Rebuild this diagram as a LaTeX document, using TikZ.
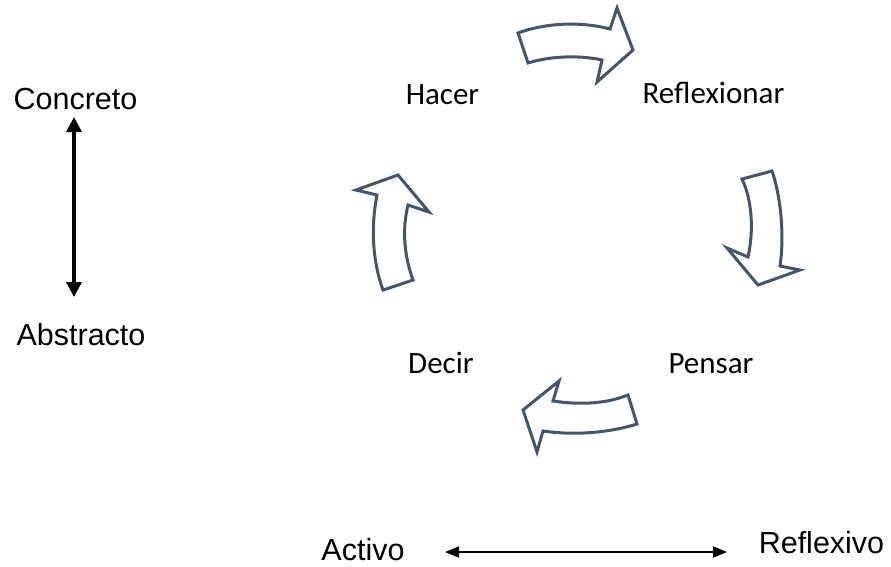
\documentclass[tikz,border=0pt]{standalone}
\usepackage{fontspec}
\setmainfont{Liberation Sans}
\newfontfamily\calibri{Carlito}
\usetikzlibrary{arrows.meta}
\definecolor{bordeflecha}{HTML}{44546A}
\tikzset{
  eje/.style={anchor=base, inner sep=1pt, font=\fontsize{30.5}{36}\selectfont},
  paso/.style={anchor=base, font=\calibri\fontsize{31}{36}\selectfont},
  flecha/.style={draw=bordeflecha, line width=3pt, line join=miter, fill=white},
}
\begin{document}
\begin{tikzpicture}[x=1pt,y=-1pt]
       \useasboundingbox (0,0) rectangle (891,566);
       % ciclo
       \node[paso] (hacer) at (442.5,104) {Hacer};
       \node[paso] (reflexionar) at (713.5,103) {Reflexionar};
       \node[paso] (pensar) at (711,373) {Pensar};
       \node[paso] (decir) at (441,373) {Decir};
       \draw[flecha] (518,33) .. controls (545,23) and (580,21) .. (610,29) -- (617,8) -- (633,50) -- (597,82) -- (602,60) .. controls (580,55) and (550,56) .. (528,63) -- cycle;
       \draw[flecha] (742,179) -- (772,171) .. controls (782,200) and (784,240) .. (780,266) -- (800,270) -- (758,285) -- (727,248) -- (748,257) .. controls (754,230) and (752,200) .. (742,179) -- cycle;
       \draw[flecha] (628,395) -- (637,424) .. controls (605,434) and (570,435) .. (543,431) -- (537,452) -- (523,410) -- (559,381) -- (553,401) .. controls (580,405) and (605,404) .. (628,395) -- cycle;
       \draw[flecha] (383,290) -- (413,280) .. controls (404,255) and (402,230) .. (408,205) -- (429,212) -- (398,175) -- (356,190) -- (377,195) .. controls (371,225) and (372,260) .. (383,290) -- cycle;
       % ejes
       \node[eje] (concreto) at (75.5,109) {Concreto};
       \node[eje] (abstracto) at (81,345) {Abstracto};
       \node[eje] (activo) at (363,560) {Activo};
       \node[eje] (reflexivo) at (821.5,553) {Reflexivo};
       \coordinate (arriba) at (74,117);
       \coordinate (abajo) at (74,297);
       \coordinate (izq) at (445,552);
       \coordinate (der) at (727,552);
       \draw[line width=3.5pt, {Triangle[length=15pt,width=15pt]}-{Triangle[length=15pt,width=15pt]}] (arriba) -- (abajo);
       \draw[line width=1.8pt, {Triangle[length=14pt,width=11pt]}-{Triangle[length=14pt,width=11pt]}] (izq) -- (der);
     \end{tikzpicture}
\end{document}
